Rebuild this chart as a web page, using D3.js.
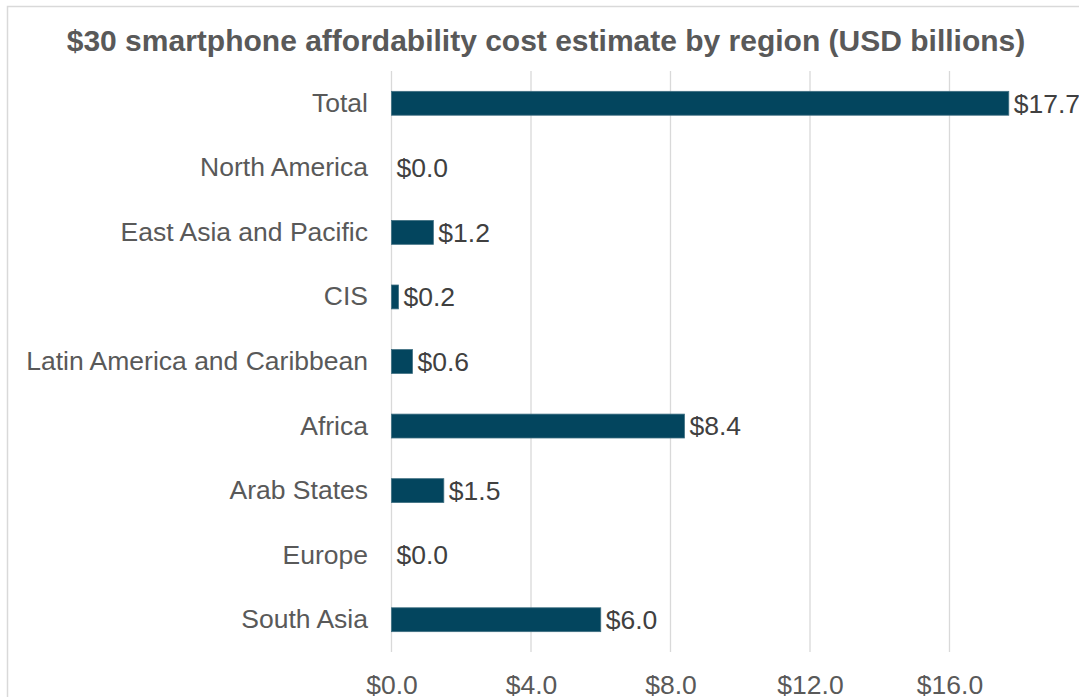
<!DOCTYPE html>
<html><head><meta charset="utf-8">
<script src="https://cdn.jsdelivr.net/npm/d3@7"></script>
<style>body{margin:0;background:#fff;overflow:hidden}svg{display:block;font-family:"Liberation Sans",Arial,sans-serif}</style>
</head><body><svg id="c" width="1079" height="697"></svg>
<script>
const categories = ["Total","North America","East Asia and Pacific","CIS","Latin America and Caribbean","Africa","Arab States","Europe","South Asia"];
const values = [17.7,0.0,1.2,0.2,0.6,8.4,1.5,0.0,6.0];
const tickValues = [0,4,8,12,16];
const title = "$30 smartphone affordability cost estimate by region (USD billions)";

const svg = d3.select("#c");
svg.append("rect").attr("x",7.5).attr("y",6.5).attr("width",1100).attr("height",720)
  .attr("fill","#fff").attr("stroke","#d9d9d9").attr("stroke-width",1.5);

const x = d3.scaleLinear().domain([0,20]).range([391.5,1089]);
const y = d3.scaleBand().domain(categories).range([71,652]).paddingInner(0.63).paddingOuter(0.315);

svg.append("text").attr("x",546).attr("y",51).attr("text-anchor","middle")
  .attr("font-size",30).attr("font-weight","bold").attr("fill","#595959").text(title);

svg.append("g").selectAll("line").data(tickValues).join("line")
  .attr("x1",d=>x(d)).attr("x2",d=>x(d)).attr("y1",71).attr("y2",652)
  .attr("stroke","#d9d9d9").attr("stroke-width",1.3);

const xAxis = d3.axisBottom(x).tickValues(tickValues).tickFormat(d=>"$"+d3.format(".1f")(d)).tickSize(0).tickPadding(0);
const gx = svg.append("g").attr("transform","translate(0,675)").call(xAxis);
gx.select(".domain").remove();
gx.selectAll("text").attr("font-size",26.5).attr("fill","#595959").attr("dy","0.71em").style("font-family","Liberation Sans, Arial, sans-serif");

const yAxis = d3.axisLeft(y).tickSize(0).tickPadding(0);
const gy = svg.append("g").attr("transform","translate(368,0)").call(yAxis);
gy.select(".domain").remove();
gy.selectAll("text").attr("font-size",26.5).attr("fill","#595959").style("font-family","Liberation Sans, Arial, sans-serif");

svg.append("g").selectAll("rect").data(categories).join("rect")
  .attr("x",x(0)).attr("y",d=>y(d)).attr("width",(d,i)=>x(values[i])-x(0)).attr("height",y.bandwidth())
  .attr("fill","#03455e").attr("stroke","#3f6f82").attr("stroke-width",0.8);

svg.append("g").selectAll("text").data(categories).join("text")
  .attr("x",(d,i)=>x(values[i])+5).attr("y",d=>y(d)+y.bandwidth()/2).attr("dy","0.35em")
  .attr("font-size",26.5).attr("fill","#404040").text((d,i)=>"$"+d3.format(".1f")(values[i]));
</script></body></html>
